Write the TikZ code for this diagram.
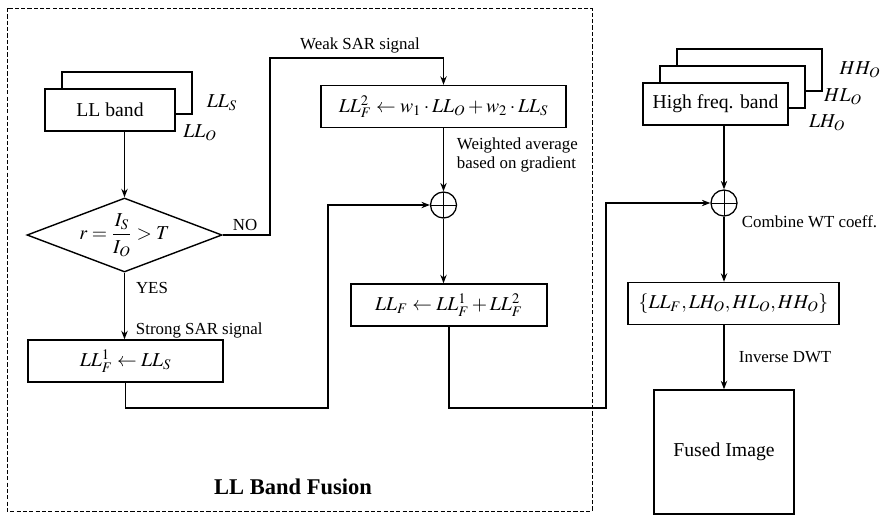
\documentclass[tikz,border=0pt]{standalone}
\usepackage{amsmath}
\usepackage{mathptmx}
\usepackage{fontspec}
\setmainfont{Liberation Serif}
\usetikzlibrary{arrows.meta,shapes.geometric}

\begin{document}
\begin{tikzpicture}[
  x=0.025cm, y=-0.025cm,
  every node/.style={font=\fontsize{14}{16}\selectfont},
  >={Stealth[length=6pt,width=4.5pt]},
  blockbox/.style={draw, line width=1pt, fill=white, rectangle, inner sep=0pt, minimum height=1.05cm},
  note/.style={font=\fontsize{12}{14}\selectfont},
  flow/.style={draw, line width=1pt},
  sumnode/.style={draw, circle, line width=0.9pt, minimum size=0.65cm, inner sep=0pt,
    path picture={\draw[line width=0.7pt] (path picture bounding box.north) -- (path picture bounding box.south)
      (path picture bounding box.west) -- (path picture bounding box.east);}},
  framebox/.style={draw, line width=0.7pt, dash pattern=on 3pt off 1.5pt},
]
\useasboundingbox (0,0) rectangle (892,515);

% ============ LL band fusion frame ============
\draw[framebox] (7,8) rectangle (592,511);
\node[font=\fontsize{16}{18}\selectfont\bfseries] (title) at (293,487) {LL Band Fusion};

% LL band stack
\node[blockbox, minimum width=3.25cm] (llS) at (127,93) {};
\node[blockbox, minimum width=3.25cm] (llO) at (110,110) {LL band};
\node (llSlab) at (222,103) {$LL_S$};
\node (llOlab) at (200,133) {$LL_O$};

% decision
\node[diamond, draw, line width=1pt, minimum width=4.875cm, minimum height=1.85cm, inner sep=0pt] (dec) at (124.5,235) {};
\node (dectext) at (dec.center) {$r=\dfrac{I_S}{I_O}>T$};
\draw[flow,->] (llO.south -| dec.north) -- (dec.north);

% strong branch
\node[blockbox, minimum width=4.875cm] (llF1) at (125.5,361) {$LL_F^1 \leftarrow LL_S$};
\draw[flow,->] (dec.south) -- (dec.south |- llF1.north);
\node[note] (yes) at (152,288) {YES};
\node[note, anchor=west] (strong) at (131,330) {Strong SAR signal};

% weak branch
\node[blockbox, minimum width=6.125cm] (llF2) at (443.5,106.5) {$LL_F^2 \leftarrow w_1\cdot LL_O + w_2\cdot LL_S$};
\coordinate (wk) at (270,58);
\draw[flow,->] (dec.east) -| (wk) -| (llF2.north);
\node[note] (no) at (245,225) {NO};
\node[note] (weak) at (360,45) {Weak SAR signal};
\node[note, anchor=west, align=left] (wavg) at (452,155) {Weighted average\\based on gradient};

% summation of both branches
\node[sumnode] (sum1) at (443.5,205) {};
\draw[flow,->] (llF2.south) -- (sum1.north);
\coordinate (j1) at (328,408);
\draw[flow,->] (llF1.south) |- (j1) |- (sum1.west);
\node[blockbox, minimum width=4.9cm] (llF) at (449,305) {$LL_F \leftarrow LL_F^1 + LL_F^2$};
\draw[flow,->] (sum1.south) -- (sum1.south |- llF.north);

% ============ high frequency bands ============
\node[blockbox, minimum width=3.625cm] (hhO) at (749.5,70) {};
\node[blockbox, minimum width=3.625cm] (hlO) at (732.5,87) {};
\node[blockbox, minimum width=3.625cm] (lhO) at (715.5,104) {High freq. band};
\node (hhOlab) at (860,70) {$HH_O$};
\node (hlOlab) at (843,97) {$HL_O$};
\node (lhOlab) at (827,123) {$LH_O$};

% combine and inverse transform
\node[sumnode] (sum2) at (724,203) {};
\draw[flow,->] (lhO.south -| sum2.north) -- (sum2.north);
\coordinate (j2) at (606,408);
\draw[flow,->] (llF.south) |- (j2) |- (sum2.west);
\node[note, anchor=west] (comb) at (737,222) {Combine WT coeff.};
\node[blockbox, minimum width=5.275cm] (coef) at (733.5,303.5) {$\left\{LL_F, LH_O, HL_O, HH_O\right\}$};
\draw[flow,->] (sum2.south) -- (sum2.south |- coef.north);
\node[note, anchor=west] (idwt) at (734,357) {Inverse DWT};
\node[blockbox, minimum width=3.5cm, minimum height=3.1cm] (fused) at (724,452) {Fused Image};
\draw[flow,->] (sum2.south |- coef.south) -- (fused.north);

\end{tikzpicture}
\end{document}
